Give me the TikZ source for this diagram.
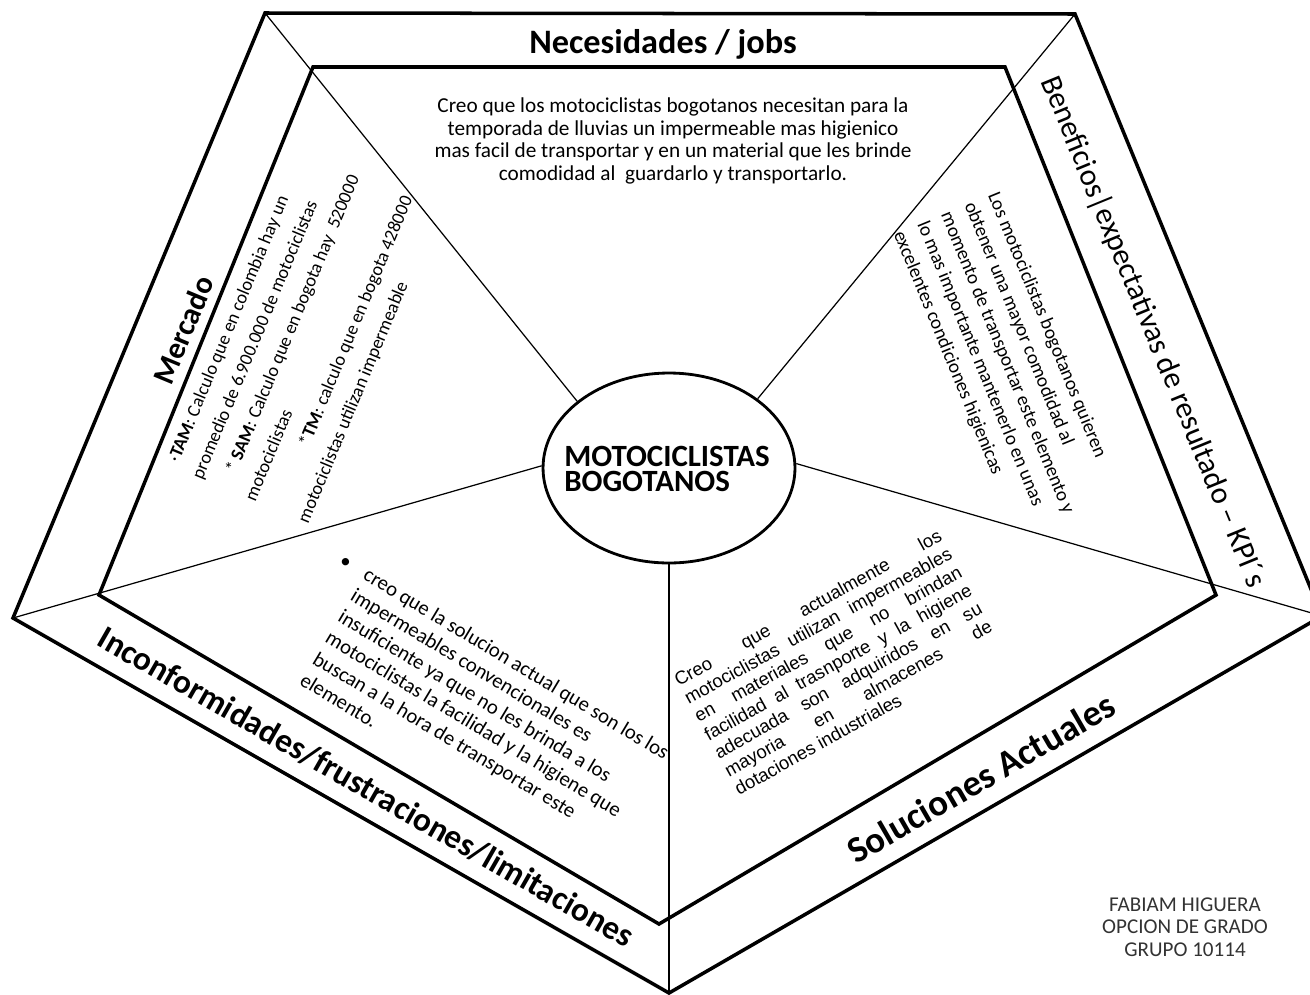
\documentclass[tikz,border=0pt]{standalone}
\usepackage{fontspec}
\setmainfont{Carlito}
\newfontfamily\arialfont{Liberation Sans}
\usetikzlibrary{shapes.geometric}

\tikzset{
  band/.style={line width=2pt, line join=miter},
  spoke/.style={line width=0.7pt},
  hub/.style={draw, ellipse, line width=1.6pt, minimum width=5.04cm, minimum height=3.8cm, inner sep=0pt},
  heading/.style={font=\bfseries\fontsize{19.5}{23}\selectfont, inner sep=0pt},
  note/.style={inner sep=0pt, align=left},
}
\newcommand{\jline}[1]{\makebox[6.05cm][s]{#1}}

\begin{document}
\begin{tikzpicture}[x=0.02cm, y=-0.02cm]
        \useasboundingbox (0,0) rectangle (1310,994);
        \fill[white] (0,0) rectangle (1310,994);
        \clip (0,0) rectangle (1310,994);

        % Pentagon corners
        \coordinate (oTL) at (265,13);
        \coordinate (oTR) at (1075,14);
        \coordinate (oR) at (1322,616);
        \coordinate (oB) at (669,993);
        \coordinate (oL) at (13,618);
        \coordinate (iTL) at (313,67);
        \coordinate (iTR) at (1005,67);
        \coordinate (iR) at (1216,595);
        \coordinate (iB) at (659,924);
        \coordinate (iL) at (99,595);

        % Bands
        \draw[band] (oTL) -- (oTR) -- (oR) -- (oB) -- (oL) -- cycle;
        \draw[band] (iTL) -- (iTR) -- (iR) -- (iB) -- (iL) -- cycle;

        % Centre and spokes
        \node[hub] (hub) at (669,468) {};
        \draw[spoke] (oTL) -- (hub.144);
        \draw[spoke] (oTR) -- (hub.38);
        \draw[spoke] (oR) -- (hub.2);
        \draw[spoke] (oB) -- (hub.south);
        \draw[spoke] (oL) -- (hub.179);
        \node[align=left, inner sep=0pt, font=\bfseries\fontsize{17.6}{13.8}\selectfont] (hubtext) at (667,469) {MOTOCICLISTAS\\BOGOTANOS};

        % Headings
        \node[heading] (needs) at (663,44) {Necesidades / jobs};
        \node[heading, rotate=67.4, font=\bfseries\fontsize{17.5}{21}\selectfont] (market) at (183,330) {Mercado};
        \node[heading, rotate=-67.7, font=\fontsize{17.5}{20}\selectfont] (gains) at (1153,332) {Beneficios|expectativas de resultado – KPI´s};
        \node[heading, rotate=-29.8, font=\bfseries\fontsize{19}{21}\selectfont] (pains) at (366,787) {Inconformidades/frustraciones/limitaciones};
        \node[heading, rotate=30, font=\bfseries\fontsize{21}{25}\selectfont] (current) at (981,778) {Soluciones Actuales};

        % Texts
        \node[note, align=center, font=\fontsize{12.1}{12.9}\selectfont] (needstext) at (673,141)
            {Creo que los motociclistas bogotanos necesitan para la\\temporada de lluvias un impermeable mas higienico\\mas facil de transportar y en un material que les brinde\\comodidad al~ guardarlo y transportarlo.};
        \node[note, rotate=67.4, font=\fontsize{10.5}{16.3}\selectfont] (markettext) at (303,338)
            {\hspace*{4pt}·\textbf{TAM}: Calculo que en colombia hay un\\promedio de 6.900.000 de motociclistas\\\hspace*{11pt}* \textbf{SAM}: Calculo que en bogota hay~ 520000\\motociclistas\\\hspace*{41pt}*\textbf{TM}: calculo que en bogota 428000\\motociclistas utilizan impermeable};
        \node[note, rotate=-67.7, font=\fontsize{11}{14.5}\selectfont] (gainstext) at (1007,363)
            {Los motociclistas bogotanos quieren\\obtener una mayor comodidad al\\momento de transportar este elemento y\\lo mas importante mantenerlo en unas\\excelentes condiciones higienicas};
        \node[note, rotate=-31, font=\fontsize{11.8}{14}\selectfont] (painstext) at (485,716)
            {\llap{•\hspace{10pt}}creo que la solucion actual que son los los\\impermeables convencionales es\\insuficiente ya que no les brinda a los\\motociclistas la facilidad y la higiene que\\buscan a la hora de transportar este\\elemento.};
        \node[note, rotate=29, font=\arialfont\fontsize{10.5}{11.8}\selectfont] (currenttext) at (838,662)
            {\jline{Creo que actualmente los}\\\jline{motociclistas utilizan impermeables}\\\jline{en materiales que no brindan}\\\jline{facilidad al trasnporte y la higiene}\\\jline{adecuada son adquiridos en su}\\\jline{mayoria en almacenes de}\\dotaciones industriales};

        % Author
        \node[align=center, inner sep=0pt, text=black!80, font=\fontsize{12}{12.8}\selectfont] (author) at (1185,927)
            {FABIAM HIGUERA\\OPCION DE GRADO\\GRUPO 10114};
\end{tikzpicture}
\end{document}
